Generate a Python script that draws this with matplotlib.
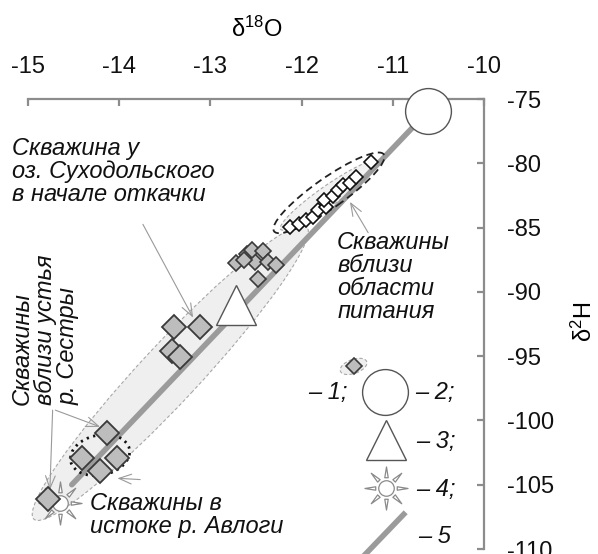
import numpy as np
import matplotlib
matplotlib.use("Agg")
import matplotlib.pyplot as plt
from matplotlib.path import Path
from matplotlib.patches import Ellipse
from matplotlib.transforms import ScaledTranslation

plt.rcParams["font.family"] = ["Liberation Sans", "DejaVu Sans"]
plt.rcParams["mathtext.default"] = "regular"

# wells, grey diamonds (large)
wells_x = [-14.13, -14.41, -14.21, -14.02, -14.78, -13.40, -13.11, -13.42, -13.33]
wells_y = [-101.0, -102.9, -103.9, -102.9, -106.1, -92.7, -92.7, -94.6, -95.1]
# wells, grey diamonds (small cluster)
clus_x = [-12.72, -12.60, -12.51, -12.54, -12.42, -12.37, -12.28, -12.48, -12.63]
clus_y = [-87.75, -87.05, -87.67, -86.74, -86.82, -87.67, -87.91, -89.0, -87.52]
# wells near recharge area, white diamonds
rech_x = [-12.13, -12.03, -11.95, -11.87, -11.82, -11.73, -11.75, -11.66, -11.60, -11.55, -11.47, -11.40, -11.24]
rech_y = [-84.95, -84.72, -84.41, -84.18, -83.64, -83.41, -82.86, -82.55, -82.09, -81.70, -81.55, -81.08, -79.92]

circle_x, circle_y = -10.61, -75.93      # 2
tri_x, tri_y = -12.72, -91.0             # 3
sun_x, sun_y = -14.65, -106.4            # 4
lmwl_x = [-14.52, -10.61]                # 5
lmwl_y = [-105.0, -75.93]

xticks = [-15, -14, -13, -12, -11, -10]
yticks = [-75, -80, -85, -90, -95, -100, -105, -110]

SPINE = "#8c8c8c"
LINE = "#9b9b9b"
GREY_FILL = "#bdbdbd"
EDGE = "#3a3a3a"
FS = 17


def sun_marker():
    parts = [Path.circle((0, 0), 0.36)]
    for k in range(8):
        a = np.deg2rad(45 * k)
        d = np.array([np.cos(a), np.sin(a)])
        n = np.array([-d[1], d[0]])
        base = 0.5 * d
        verts = [base + 0.08 * n, d * 1.0, base - 0.08 * n, base + 0.08 * n]
        parts.append(Path(verts, [Path.MOVETO, Path.LINETO, Path.LINETO, Path.CLOSEPOLY]))
    return Path.make_compound_path(*parts)


def px_ellipse(ax, cx, cy, w, h, angle, **kw):
    # ellipse sized in pixels, centred on a data point
    tr = ax.figure.dpi_scale_trans + ScaledTranslation(cx, cy, ax.transData)
    e = Ellipse((0, 0), w / 100, h / 100, angle=angle, transform=tr, **kw)
    ax.add_patch(e)
    return e


fig = plt.figure(figsize=(5.98, 5.54), dpi=100)
ax = fig.add_axes([28 / 598, 5 / 554, 456 / 598, 450 / 554])
ax.set_xlim(-15, -10)
ax.set_ylim(-110, -75)

for s in ["left", "bottom"]:
    ax.spines[s].set_visible(False)
for s in ["top", "right"]:
    ax.spines[s].set_color(SPINE)
    ax.spines[s].set_linewidth(1.6)
ax.xaxis.tick_top()
ax.yaxis.tick_right()
ax.set_xticks(xticks)
ax.set_yticks(yticks)
ax.set_xticklabels([str(t) for t in xticks])
ax.set_yticklabels([str(t) for t in yticks])
ax.tick_params(axis="both", direction="in", length=5, width=1.6, color=SPINE,
               labelsize=FS, labelcolor="#111111")
ax.tick_params(axis="x", pad=15)
ax.tick_params(axis="y", pad=16.5)

fig.text(257 / 598, 1 - 29 / 554, "δ$^{18}$O", ha="center", va="center", fontsize=FS)
fig.text(584 / 598, 1 - 322 / 554, "δ$^{2}$H", ha="center", va="center",
         fontsize=FS, rotation=90)

# envelopes
px_ellipse(ax, -13.44, -96.3, 400, 58, 47, facecolor="#efefef", edgecolor="#a8a8a8",
           lw=0.8, ls=(0, (3, 2)), zorder=1)
px_ellipse(ax, -11.7, -82.5, 118, 20, 35, facecolor="#f2f2f2", edgecolor="#a8a8a8",
           lw=0.8, ls=(0, (3, 2)), zorder=1)
px_ellipse(ax, -11.70, -82.3, 134, 30, 35, facecolor="none", edgecolor="#222222",
           lw=1.3, ls=(0, (4, 2.5)), zorder=4)
px_ellipse(ax, -14.21, -102.7, 60, 40, 12, facecolor="none", edgecolor="#111111",
           lw=2.0, ls=(0, (0.8, 1.6)), zorder=4)

ax.plot(lmwl_x, lmwl_y, color=LINE, lw=4, solid_capstyle="round", zorder=2)

ax.plot(sun_x, sun_y, marker=sun_marker(), ms=31, mfc="white", mec="#8a8a8a",
        mew=0.9, ls="none", zorder=3)
ax.plot(wells_x, wells_y, "D", ms=12.5, mfc=GREY_FILL, mec=EDGE, mew=1.3,
        ls="none", zorder=5)
ax.plot(clus_x, clus_y, "D", ms=8, mfc=GREY_FILL, mec=EDGE, mew=1.2,
        ls="none", zorder=5)
ax.plot(rech_x, rech_y, "D", ms=7, mfc="white", mec="#111111", mew=1.2,
        ls="none", zorder=5)
ax.plot(tri_x, tri_y, "^", ms=29, mfc="white", mec="#555555", mew=1.0,
        ls="none", zorder=6)
ax.plot(circle_x, circle_y, "o", ms=33, mfc="white", mec="#555555", mew=1.0,
        ls="none", zorder=6, clip_on=False)

# annotations
txt = dict(fontsize=FS, style="italic", color="#111111", linespacing=1.0)
ax.text(-15.18, -77.92, "Скважина у\nоз. Суходольского\nв начале откачки",
        ha="left", va="top", **txt)
ax.text(-15.19, -98.8, "Скважины\nвблизи устья\nр. Сестры",
        ha="left", va="bottom", rotation=90, multialignment="left", **txt)
ax.text(-14.32, -105.53, "Скважины в\nистоке р. Авлоги", ha="left", va="top", **txt)
ax.text(-11.61, -85.23, "Скважины\nвблизи\nобласти\nпитания", ha="left", va="top", **txt)

arrow = dict(arrowstyle="->,head_length=0.9,head_width=0.35", color="#9a9a9a", lw=0.8,
             shrinkA=0, shrinkB=0)
ax.annotate("", xy=(-13.19, -92.0), xytext=(-13.74, -84.75), arrowprops=arrow)
ax.annotate("", xy=(-14.21, -100.5), xytext=(-14.70, -99.2), arrowprops=arrow)
ax.annotate("", xy=(-14.76, -105.4), xytext=(-14.73, -99.2), arrowprops=arrow)
ax.annotate("", xy=(-14.02, -104.5), xytext=(-13.77, -104.6), arrowprops=arrow)
ax.annotate("", xy=(-11.47, -83.0), xytext=(-11.27, -85.4), arrowprops=arrow)

# legend
leg = dict(fontsize=FS, color="#111111", va="center", ha="left", style="italic")
ax.text(-11.93, -97.86, "– 1;", **leg)
px_ellipse(ax, -11.43, -95.8, 28, 14, 20, facecolor="#efefef", edgecolor="#a8a8a8",
           lw=0.8, ls=(0, (3, 2)), zorder=1)
ax.plot(-11.43, -95.8, "D", ms=8, mfc=GREY_FILL, mec=EDGE, mew=1.2, zorder=5)
ax.plot(-11.09, -97.78, "o", ms=33, mfc="white", mec="#555555", mew=1.0, zorder=6)
ax.plot(-11.08, -101.5, "^", ms=29, mfc="white", mec="#555555", mew=1.0, zorder=6)
ax.plot(-11.08, -105.25, marker=sun_marker(), ms=31, mfc="white", mec="#8a8a8a",
        mew=0.9, zorder=6)
ax.plot([-11.30, -10.88], [-110.4, -107.3], color=LINE, lw=4, clip_on=False)
for lab, x, y in [("– 2;", -10.757, -97.86), ("– 3;", -10.745, -101.67),
                  ("– 4;", -10.745, -105.40), ("– 5", -10.724, -109.06)]:
    ax.text(x, y, lab, **leg)

fig.savefig("out.png", dpi=100)
